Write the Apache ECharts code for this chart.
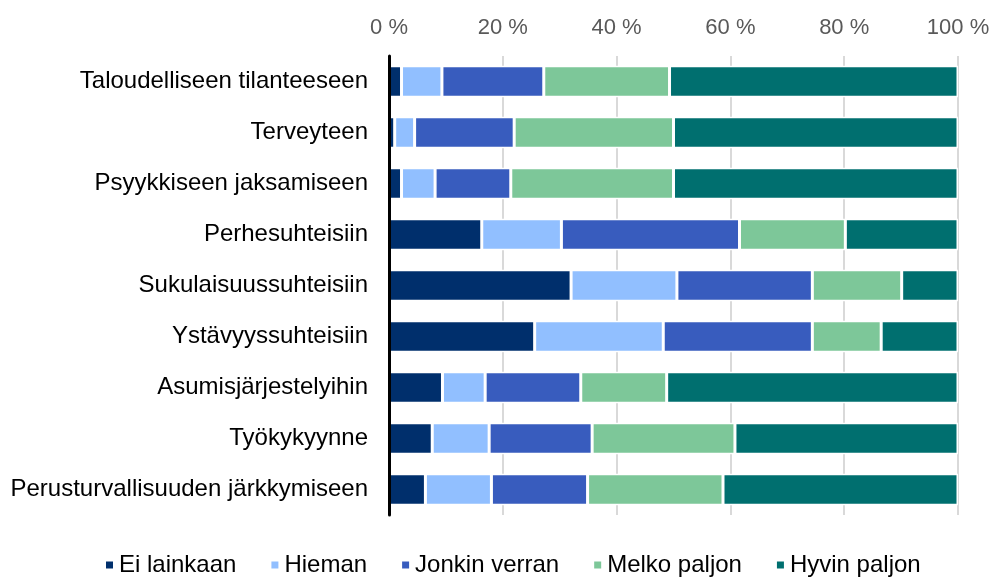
<!DOCTYPE html>
<html>
<head>
<meta charset="utf-8">
<script src="https://cdn.jsdelivr.net/npm/echarts@6/dist/echarts.min.js"></script>
<style>
html,body{margin:0;padding:0;background:#fff;}
#main{width:995px;height:577px;}
</style>
</head>
<body>
<div id="main"></div>
<script>
var categories = ["Taloudelliseen tilanteeseen","Terveyteen","Psyykkiseen jaksamiseen","Perhesuhteisiin","Sukulaisuussuhteisiin","Ystävyyssuhteisiin","Asumisjärjestelyihin","Työkykyynne","Perusturvallisuuden järkkymiseen"];
var seriesNames = ["Ei lainkaan","Hieman","Jonkin verran","Melko paljon","Hyvin paljon"];
var eiLainkaan   = [2.2, 1.0, 2.2, 16.3, 32.0, 25.6, 9.4, 7.6, 6.4];
var hieman       = [7.1, 3.5, 5.9, 14.0, 18.6, 22.6, 7.5, 10.0, 11.6];
var jonkinVerran = [17.9, 17.5, 13.3, 31.3, 23.8, 26.2, 16.8, 18.1, 16.9];
var melkoPaljon  = [22.1, 28.0, 28.6, 18.6, 15.7, 12.1, 15.1, 25.1, 23.8];
var hyvinPaljon  = [50.7, 50.0, 50.0, 19.8, 9.9, 13.5, 51.2, 39.2, 41.3];
var colors = ["#002F6C","#91BFFF","#385CBE","#7DC799","#006F6F"];

var font = "'Liberation Sans', Arial, sans-serif";
var allData = [eiLainkaan, hieman, jonkinVerran, melkoPaljon, hyvinPaljon];
var chart = echarts.init(document.getElementById('main'), null, {renderer:'canvas'});
chart.setOption({
  animation:false,
  textStyle:{fontFamily:font},
  grid:{left:389, right:37, top:56, bottom:62, containLabel:false},
  legend:{
    data:seriesNames, left:104, top:553, padding:0, icon:'rect', itemWidth:9, itemHeight:9, itemGap:33,
    textStyle:{fontFamily:font, fontSize:24, color:'#000'}
  },
  xAxis:{
    type:'value', position:'top', min:0, max:100, interval:20,
    axisLine:{show:false}, axisTick:{show:false},
    axisLabel:{formatter:'{value} %', color:'#595959', fontSize:22, fontFamily:font, margin:17},
    splitLine:{show:true, lineStyle:{color:'#d9d9d9', width:2}}
  },
  yAxis:{
    type:'category', inverse:true, data:categories, z:10,
    axisLine:{show:true, lineStyle:{color:'#000', width:3}},
    axisTick:{show:false},
    axisLabel:{color:'#000', fontSize:24, fontFamily:font, margin:21}
  },
  series: seriesNames.map(function(n,i){
    return {name:n, type:'bar', stack:'total', barWidth:'62%', data:allData[i],
      itemStyle:{color:colors[i], borderColor:'#fff', borderWidth:1.5}};
  })
});
</script>
</body>
</html>
